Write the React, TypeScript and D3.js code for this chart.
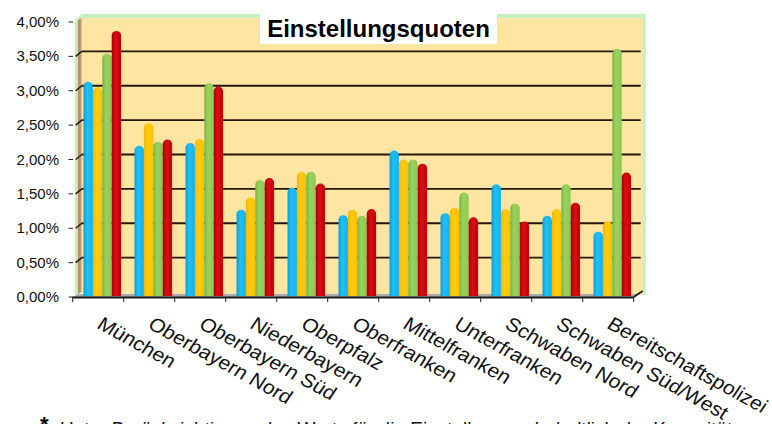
import React from "react";
import * as d3 from "d3";

const categories = ["München","Oberbayern Nord","Oberbayern Süd","Niederbayern","Oberpfalz","Oberfranken","Mittelfranken","Unterfranken","Schwaben Nord","Schwaben Süd/West","Bereitschaftspolizei"];
const blue = [3.13,2.2,2.24,1.27,1.59,1.19,2.13,1.22,1.64,1.18,0.95];
const orange = [3.05,2.53,2.3,1.45,1.82,1.27,2.0,1.3,1.28,1.28,1.1];
const green = [3.54,2.26,3.11,1.7,1.82,1.18,2.0,1.52,1.36,1.64,3.61];
const red = [3.87,2.29,3.06,1.73,1.65,1.28,1.94,1.16,1.1,1.37,1.81];
const series = [
  { id: "b", values: blue, dark: "#0a9ede", mid: "#0fb0ee", light: "#22bff5" },
  { id: "o", values: orange, dark: "#f6b400", mid: "#ffc000", light: "#ffcb10" },
  { id: "g", values: green, dark: "#78b443", mid: "#8cc84e", light: "#9ad25e" },
  { id: "r", values: red, dark: "#b00000", mid: "#c80006", light: "#d40c12" },
];
const ticks = [0,0.5,1,1.5,2,2.5,3,3.5,4];
const fmt = (t: number) => t.toFixed(2).replace(".", ",") + "%";

const FONT = "'Liberation Sans', Arial, sans-serif";
const D = { x: 9, y: 5 };

export default function App() {
  const y = d3.scaleLinear().domain([0,4]).range([297,22]);
  const x = d3.scaleBand<string>().domain(categories).range([72.7,633.7]).padding(0);
  const inner = d3.scaleBand<string>().domain(series.map(s => s.id)).range([10.8,48.4]).padding(0);
  const left = 72.7, right = 633.7;
  const bw = inner.bandwidth();
  const y0 = y(0), y4 = y(4);
  const wallL = left + D.x, wallR = right + D.x;
  const wallT = y4 - D.y - 2;
  return (
    <svg width={772} height={424} style={{ position: "absolute", left: 0, top: 0, background: "#fff" }}>
      <defs>
        {series.map(s => (
          <linearGradient key={s.id} id={"grad" + s.id} x1="0" x2="1" y1="0" y2="0">
            <stop offset="0" stopColor={s.dark} />
            <stop offset="0.4" stopColor={s.light} />
            <stop offset="1" stopColor={s.mid} />
          </linearGradient>
        ))}
        <linearGradient id="wallSide" x1="0" x2="1" y1="0" y2="0">
          <stop offset="0" stopColor="#cdeec4" />
          <stop offset="0.45" stopColor="#c4e8bc" />
          <stop offset="0.55" stopColor="#b08a5c" />
          <stop offset="1" stopColor="#c9a878" />
        </linearGradient>
        <filter id="soft" x="-2%" y="-2%" width="104%" height="104%">
          <feGaussianBlur stdDeviation="0.45" />
        </filter>
      </defs>
      <g filter="url(#soft)">
        <path d={`M${left + 2},${y4 - 2} L${wallL},${wallT - 1} H${wallR + 3} V${y0 - 2} L${right + 6},${y0 - 2} Z`} fill="#c6f0c2" />
        <rect x={wallL} y={wallT + 3} width={wallR - wallL} height={y0 - wallT - 5} fill="#fee5a2" />
        <path d={`M${left + 2},${y4} L${wallL},${wallT + 3} V${y0 - 5} L${left + 2},${y0 - 1} Z`} fill="url(#wallSide)" />
        <path d={`M${left},${y0} L${left + 5},${y0 - 3} H${right + 5} L${right},${y0} Z`} fill="#a9aca8" />
        {ticks.slice(1, -1).map(t => (
          <g key={t}>
            <line x1={wallL} x2={wallR - 2} y1={y(t) - D.y} y2={y(t) - D.y} stroke="#20160c" strokeWidth={1.9} />
            <line x1={left + 3} x2={wallL} y1={y(t)} y2={y(t) - D.y} stroke="#20160c" strokeWidth={1.4} />
          </g>
        ))}
        {categories.map((c, i) => (
          <g key={c}>
            {series.map(s => {
              const bx = (x(c) as number) + (inner(s.id) as number);
              const top = y(s.values[i]);
              return (
                <path
                  key={s.id}
                  d={`M${bx},${y0 - 1} V${top + bw / 2} A${bw / 2},${bw / 2} 0 0 1 ${bx + bw},${top + bw / 2} V${y0 - 1} Z`}
                  fill={`url(#grad${s.id})`}
                />
              );
            })}
          </g>
        ))}
        <line x1={left} x2={right} y1={y0 + 0.5} y2={y0 + 0.5} stroke="#1a1a24" strokeWidth={2} />
        <line x1={right} x2={right + 9} y1={y0} y2={y0 - 6} stroke="#1a1a24" strokeWidth={1.8} />
        {categories.concat("end").map((c, i) => {
          const tx = left + i * x.step();
          return <line key={c} x1={tx} x2={tx} y1={y0} y2={y0 + 5} stroke="#222" strokeWidth={1} />;
        })}
        {ticks.map(t => (
          <line key={t} x1={68.5} x2={73} y1={y(t)} y2={y(t)} stroke="#222" strokeWidth={1} />
        ))}
      </g>
      <rect x={260} y={14} width={237} height={30} fill="#fff" />
      <text x={378.5} y={37} textAnchor="middle" fontFamily={FONT} fontWeight="bold" fontSize={24} fill="#000">Einstellungsquoten</text>
      {ticks.map(t => (
        <text key={t} x={59} y={y(t) + 5} textAnchor="end" fontFamily={FONT} fontSize={15} fill="#111">{fmt(t)}</text>
      ))}
      {categories.map(c => (
        <text
          key={c}
          transform={`translate(${(x(c) as number) + 23},${y0 + 30.5}) scale(1.1,1) rotate(31.2)`}
          fontFamily={FONT}
          fontSize={19.3}
          fill="#111"
        >{c}</text>
      ))}
      <text x={40} y={432} fontFamily={FONT} fontWeight="bold" fontSize={22} fill="#000">*</text>
      <text x={60} y={435} fontFamily={FONT} fontSize={19} fill="#111">Unter Berücksichtigung des Werts für die Einstellung vorbehaltlich der Kapazitäten</text>
    </svg>
  );
}
